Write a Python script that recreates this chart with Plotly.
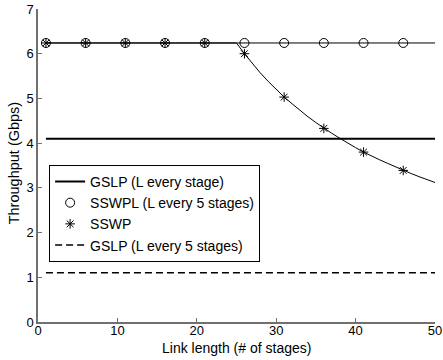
import plotly.graph_objects as go

# Data
link_len = list(range(1, 51))
sswp_curve = [6.24] * 25 + [6.00, 5.78, 5.57, 5.38, 5.20, 5.03, 4.88, 4.73, 4.59, 4.46,
                            4.33, 4.22, 4.11, 4.00, 3.90, 3.80, 3.71, 3.63, 3.55, 3.47,
                            3.39, 3.32, 3.25, 3.18, 3.12]
marker_x = [1, 6, 11, 16, 21, 26, 31, 36, 41, 46]
sswpl_markers = [6.24] * 10
sswp_markers = [6.24, 6.24, 6.24, 6.24, 6.24, 6.00, 5.03, 4.33, 3.80, 3.39]
line_x = [1, 50]
gslp_every = [4.1, 4.1]
sswpl_line = [6.24, 6.24]
gslp_every5 = [1.1, 1.1]

x_ticks = [0, 10, 20, 30, 40, 50]
y_ticks = [0, 1, 2, 3, 4, 5, 6, 7]

fig = go.Figure()
# lines without legend
fig.add_trace(go.Scatter(x=line_x, y=sswpl_line, mode="lines",
                         line=dict(color="black", width=1), showlegend=False))
fig.add_trace(go.Scatter(x=link_len, y=sswp_curve, mode="lines",
                         line=dict(color="black", width=1), showlegend=False))
# legend entries
fig.add_trace(go.Scatter(x=line_x, y=gslp_every, mode="lines",
                         line=dict(color="black", width=2),
                         name="GSLP (L every stage)"))
fig.add_trace(go.Scatter(x=marker_x, y=sswpl_markers, mode="markers",
                         marker=dict(symbol="circle-open", size=9, color="black",
                                     line=dict(width=1, color="black")),
                         name="SSWPL (L every 5 stages)"))
fig.add_trace(go.Scatter(x=marker_x, y=sswp_markers, mode="markers",
                         marker=dict(symbol="asterisk-open", size=8, color="black",
                                     line=dict(width=1, color="black")),
                         name="SSWP"))
fig.add_trace(go.Scatter(x=line_x, y=gslp_every5, mode="lines",
                         line=dict(color="black", width=1.5, dash="7px,4px"),
                         name="GSLP (L every 5 stages)"))

axis_common = dict(showgrid=False, zeroline=False, showline=True, linecolor="#707070",
                   linewidth=1.5, mirror=False, ticks="inside", ticklen=4,
                   tickcolor="#707070", tickfont=dict(size=13, color="black"),
                   automargin=False)

fig.update_layout(
    width=443, height=360,
    margin=dict(l=38, r=8, t=9, b=38),
    paper_bgcolor="white", plot_bgcolor="white",
    font=dict(family="Liberation Sans, Arial, sans-serif", color="black"),
    xaxis=dict(range=[0, 50], tickvals=x_ticks, ticklabelstandoff=-4, **axis_common),
    yaxis=dict(range=[0, 7], tickvals=y_ticks, **axis_common),
    legend=dict(x=0.028, y=0.502, xanchor="left", yanchor="top",
                bgcolor="white", bordercolor="black", borderwidth=1,
                font=dict(size=14), tracegroupgap=0),
    showlegend=True,
    annotations=[
        dict(text="Link length (# of stages)", xref="paper", yref="paper",
             x=0.5, y=0, xanchor="center", yanchor="middle", yshift=-26,
             showarrow=False, font=dict(size=14)),
        dict(text="Throughput (Gbps)", xref="paper", yref="paper",
             x=0, y=0.507, xanchor="center", yanchor="middle", xshift=-24,
             textangle=-90, showarrow=False, font=dict(size=14.5)),
    ],
)

fig.write_html("out.html", config={"displayModeBar": False},
               post_script="document.body.style.margin='0';")
